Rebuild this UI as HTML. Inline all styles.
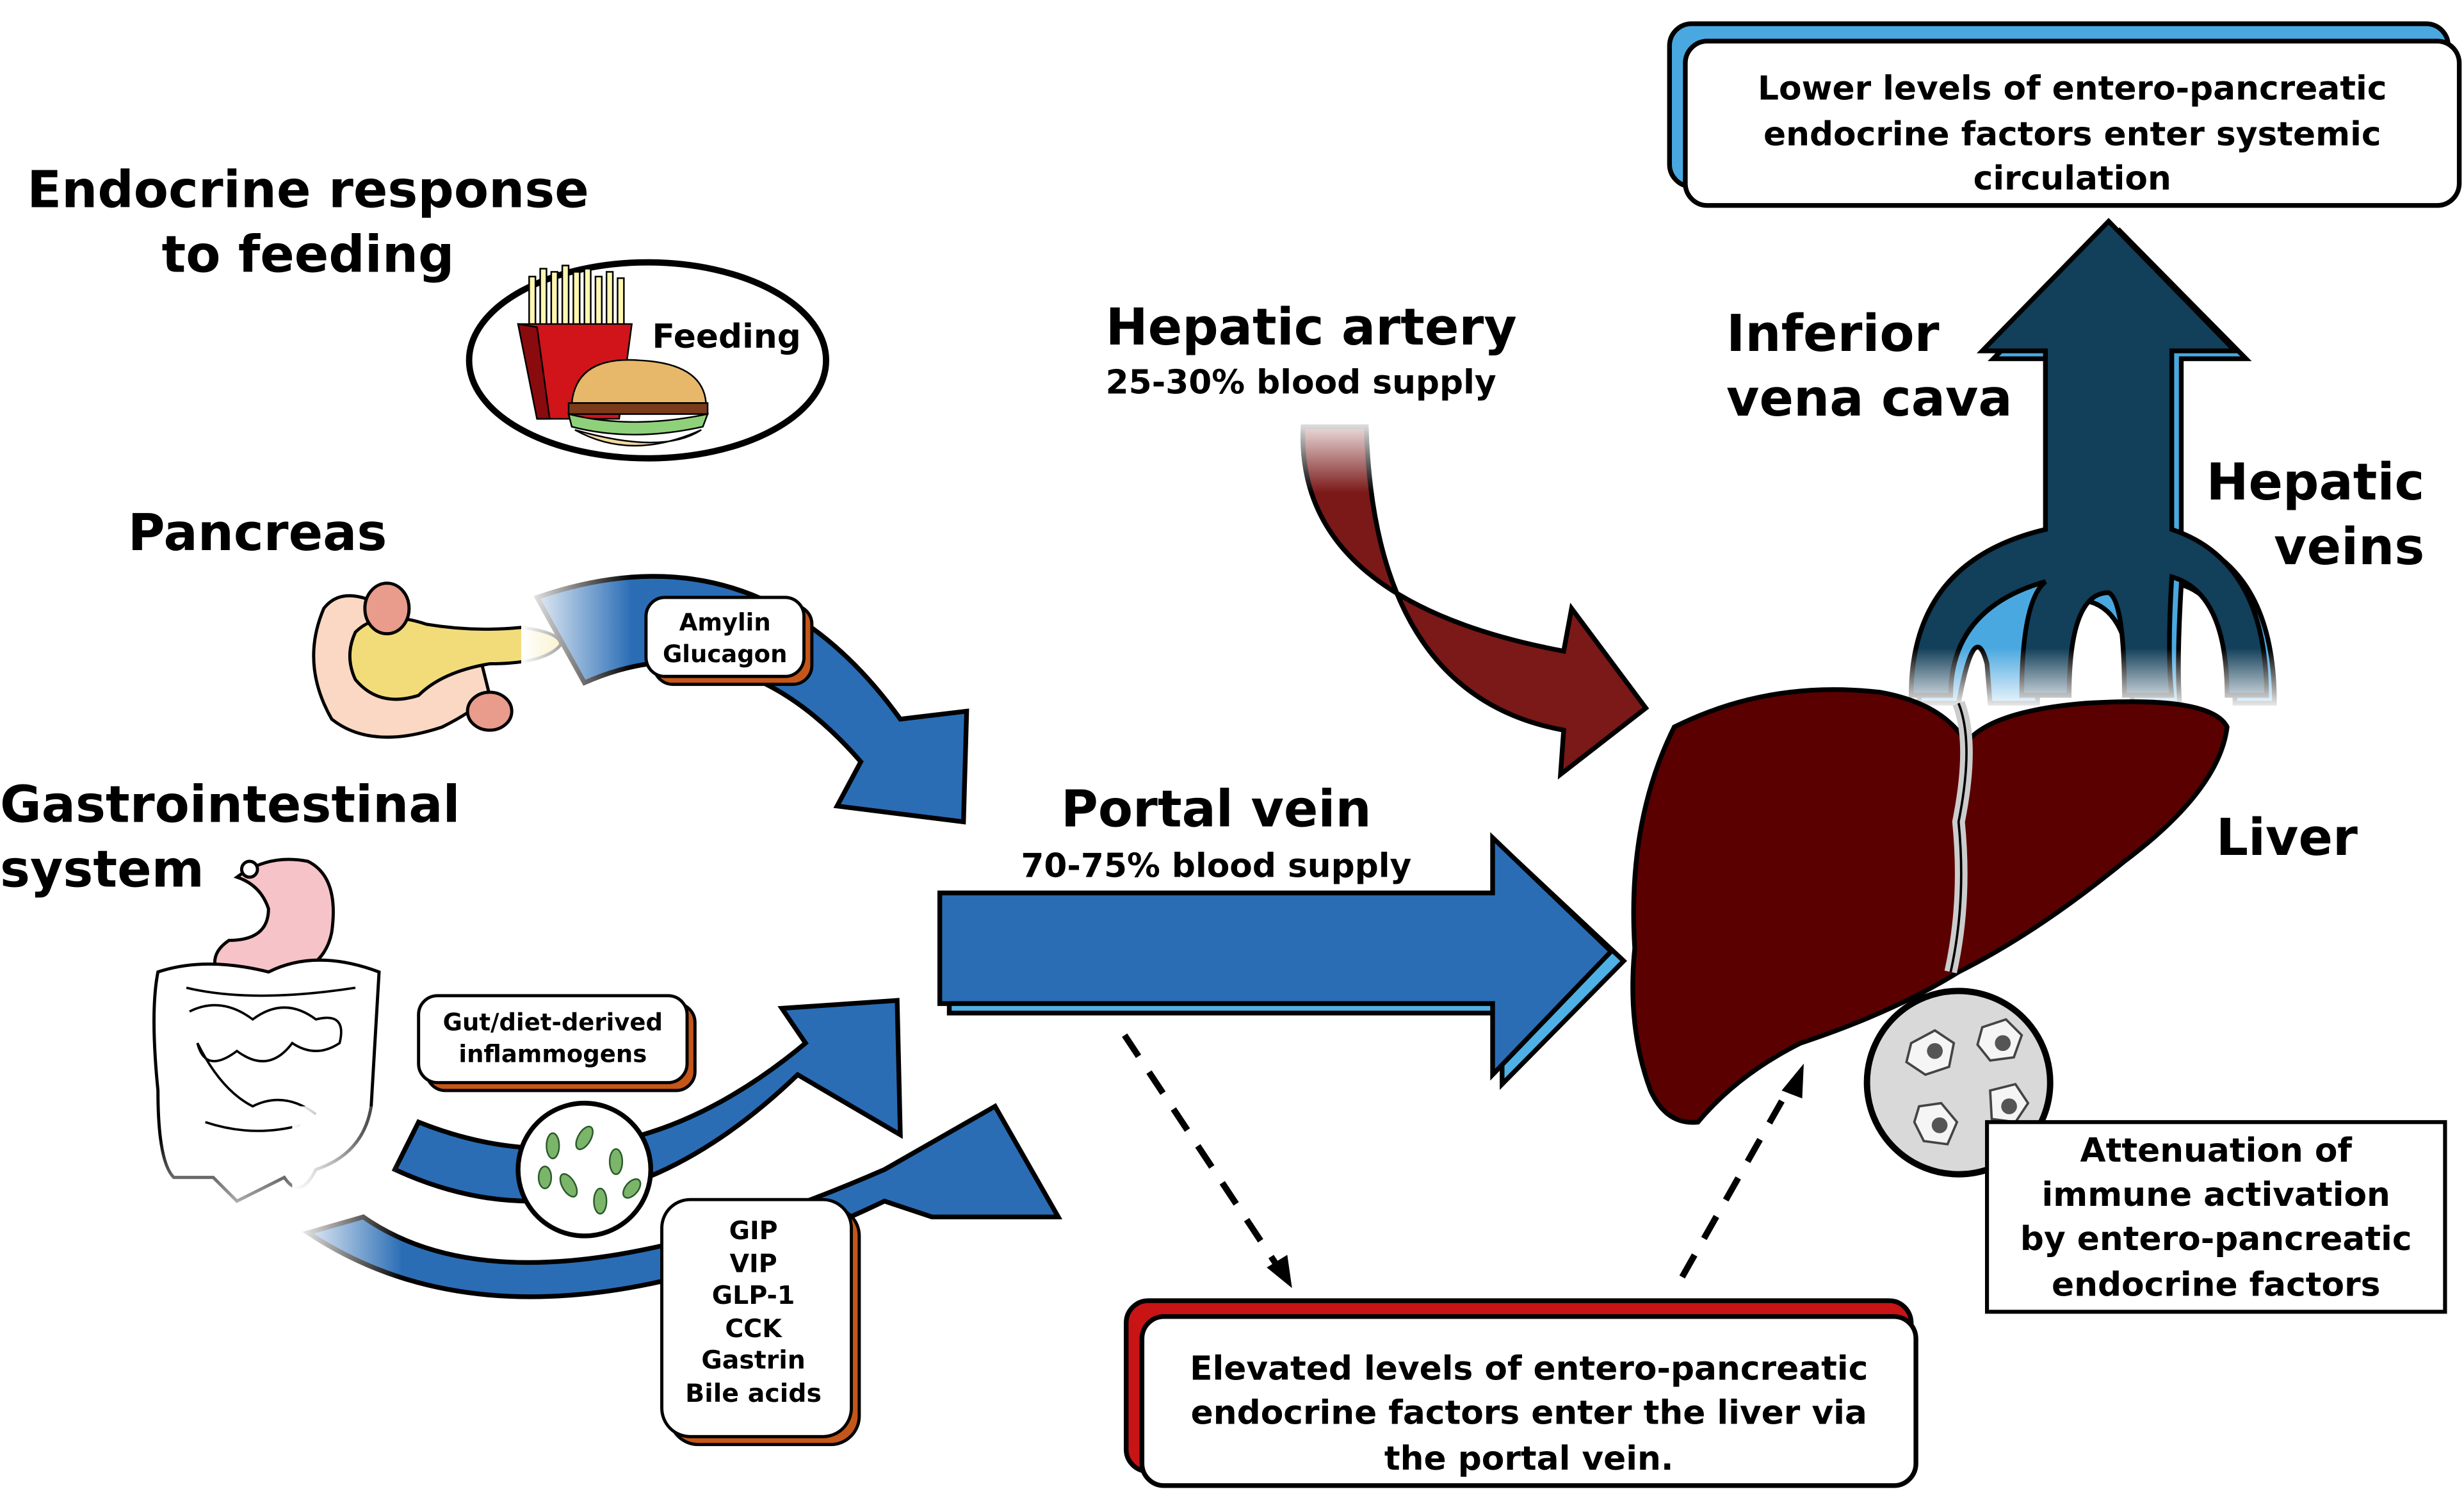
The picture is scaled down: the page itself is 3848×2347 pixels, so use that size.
<!DOCTYPE html>
<html><head><meta charset="utf-8"><style>
html,body{margin:0;padding:0;background:#fff;}
svg{display:block;}
text{font-family:"DejaVu Sans","Liberation Sans",sans-serif;font-weight:bold;fill:#000;}
</style></head><body>
<svg width="3848" height="2347" viewBox="0 0 1560 951" preserveAspectRatio="none" xmlns="http://www.w3.org/2000/svg">
<defs>
<linearGradient id="fadeL" x1="0" y1="0" x2="1" y2="0">
<stop offset="0" stop-color="#fff" stop-opacity="1"/><stop offset="1" stop-color="#fff" stop-opacity="0"/></linearGradient>
<linearGradient id="fadeT" x1="0" y1="0" x2="0" y2="1">
<stop offset="0" stop-color="#fff" stop-opacity="1"/><stop offset="1" stop-color="#fff" stop-opacity="0"/></linearGradient>
<linearGradient id="fadeB" x1="0" y1="0" x2="0" y2="1">
<stop offset="0" stop-color="#fff" stop-opacity="0"/><stop offset="1" stop-color="#fff" stop-opacity="1"/></linearGradient>
</defs>

<!-- Titles -->
<text x="195" y="131" font-size="32" text-anchor="middle">Endocrine response</text>
<text x="195" y="172" font-size="32" text-anchor="middle">to feeding</text>
<text x="163" y="348" font-size="32" text-anchor="middle">Pancreas</text>
<text x="0" y="520" font-size="32">Gastrointestinal</text>
<text x="0" y="561" font-size="32">system</text>

<!-- Feeding ellipse -->
<ellipse cx="410" cy="228" rx="113" ry="62" fill="#fff" stroke="#000" stroke-width="4"/>
<g stroke="#000" stroke-width="1">
<rect x="335" y="175" width="4" height="35" fill="#fff7b0"/><rect x="342" y="170" width="4" height="40" fill="#fff7b0"/>
<rect x="349" y="172" width="4" height="38" fill="#fff7b0"/><rect x="356" y="168" width="4" height="42" fill="#fff7b0"/>
<rect x="363" y="172" width="4" height="38" fill="#fff7b0"/><rect x="370" y="170" width="4" height="40" fill="#fff7b0"/>
<rect x="377" y="175" width="4" height="35" fill="#fff7b0"/><rect x="384" y="172" width="4" height="38" fill="#fff7b0"/>
<rect x="391" y="176" width="4" height="34" fill="#fff7b0"/>
<path d="M328 205 L400 205 L392 265 L340 265 Z" fill="#d0141a"/>
<path d="M328 205 L340 207 L348 265 L340 265 Z" fill="#8a0b0e"/>
<path d="M362 255 Q365 225 405 228 Q445 230 447 255 Z" fill="#e8b86a"/>
<rect x="360" y="255" width="88" height="7" fill="#7a3b1a"/>
<path d="M360 262 Q400 272 448 262 L445 270 Q400 280 362 270 Z" fill="#8fd17a"/>
<path d="M364 272 Q400 292 444 272 Q420 288 364 272 Z" fill="#f4d9a0"/>
</g>
<text x="460" y="220" font-size="21" text-anchor="middle">Feeding</text>

<!-- Pancreas -->
<path d="M205 385 Q190 420 210 455 Q235 475 280 460 Q300 450 310 440 L305 420 Q260 430 240 415 Q230 400 235 380 Q215 372 205 385 Z" fill="#fbd8c4" stroke="#000" stroke-width="2"/>
<path d="M225 400 Q240 385 270 395 Q300 400 330 397 Q355 400 355 408 Q345 420 310 420 Q280 425 265 440 Q240 448 225 430 Q218 415 225 400 Z" fill="#f2dc7a" stroke="#000" stroke-width="2"/>
<ellipse cx="245" cy="385" rx="14" ry="16" fill="#e99b8c" stroke="#000" stroke-width="2"/>
<ellipse cx="310" cy="450" rx="14" ry="12" fill="#e99b8c" stroke="#000" stroke-width="2"/>

<!-- Pancreas arrow -->
<path d="M340 378 Q480 330 570 455 L612 450 L610 520 L530 510 L545 482 Q465 390 370 432 Z" fill="#2a6db5" stroke="#000" stroke-width="3"/>
<rect x="330" y="360" width="70" height="90" fill="url(#fadeL)"/>
<rect x="414" y="383" width="100" height="50" rx="12" fill="#c4561a" stroke="#000" stroke-width="2"/>
<rect x="409" y="378" width="100" height="50" rx="12" fill="#fff" stroke="#000" stroke-width="2"/>
<text x="459" y="399" font-size="15" text-anchor="middle">Amylin</text>
<text x="459" y="419" font-size="15" text-anchor="middle">Glucagon</text>

<!-- Stomach / intestine -->
<path d="M150 555 Q170 540 195 545 Q215 555 210 590 Q205 615 175 618 L140 620 Q130 605 145 595 Q170 595 170 575 Q165 560 150 555 Z" fill="#f6c3c8" stroke="#000" stroke-width="2"/>
<circle cx="158" cy="550" r="5" fill="#fff" stroke="#000" stroke-width="2"/>
<path d="M100 615 Q95 640 100 690 Q100 735 110 745 L135 745 L150 760 L180 745 Q190 760 200 740 Q230 730 235 700 L240 615 Q200 600 170 615 Q130 605 100 615 Z" fill="#fff" stroke="#000" stroke-width="2"/>
<path d="M120 640 Q140 630 160 645 Q180 630 200 645 Q220 640 215 660 Q200 670 185 660 Q170 680 150 665 Q130 680 125 660 Q140 690 160 700 Q180 690 200 705 M130 710 Q160 720 190 712 M118 625 Q160 635 225 625" fill="none" stroke="#000" stroke-width="1.5"/>
<rect x="90" y="720" width="170" height="60" fill="url(#fadeB)"/>

<!-- GI arrows -->
<path d="M195 780 Q330 870 560 760 L590 770 L670 770 L630 700 L560 740 Q330 840 230 770 Z" fill="#2a6db5" stroke="#000" stroke-width="3"/>
<path d="M250 740 Q380 800 505 680 L570 718 L568 633 L495 638 L510 660 Q390 760 265 710 Z" fill="#2a6db5" stroke="#000" stroke-width="3"/>
<rect x="185" y="700" width="70" height="110" fill="url(#fadeL)"/>
<rect x="270" y="635" width="170" height="55" rx="12" fill="#c4561a" stroke="#000" stroke-width="2"/>
<rect x="265" y="630" width="170" height="55" rx="12" fill="#fff" stroke="#000" stroke-width="2"/>
<text x="350" y="652" font-size="15" text-anchor="middle">Gut/diet-derived</text>
<text x="350" y="672" font-size="15" text-anchor="middle">inflammogens</text>
<circle cx="370" cy="740" r="42" fill="#fff" stroke="#000" stroke-width="3"/>
<g fill="#7bb56a" stroke="#2a5a2a" stroke-width="1">
<ellipse cx="350" cy="725" rx="4" ry="8"/><ellipse cx="370" cy="720" rx="4" ry="8" transform="rotate(30 370 720)"/>
<ellipse cx="390" cy="735" rx="4" ry="8"/><ellipse cx="360" cy="750" rx="4" ry="8" transform="rotate(-30 360 750)"/>
<ellipse cx="380" cy="760" rx="4" ry="8"/><ellipse cx="345" cy="745" rx="4" ry="7"/><ellipse cx="400" cy="752" rx="4" ry="7" transform="rotate(40 400 752)"/>
</g>
<rect x="424" y="764" width="120" height="150" rx="18" fill="#c4561a" stroke="#000" stroke-width="2"/>
<rect x="419" y="759" width="120" height="150" rx="18" fill="#fff" stroke="#000" stroke-width="2"/>
<g font-size="16" text-anchor="middle">
<text x="477" y="784">GIP</text><text x="477" y="805">VIP</text><text x="477" y="825">GLP-1</text>
<text x="477" y="846">CCK</text><text x="477" y="866">Gastrin</text><text x="477" y="887">Bile acids</text>
</g>

<!-- Portal vein -->
<path d="M601 571 L951 571 L951 536 L1028 608 L951 686 L951 641 L601 641 Z" fill="#4fb0e6" stroke="#000" stroke-width="3"/>
<path d="M595 565 L945 565 L945 530 L1020 602 L945 680 L945 635 L595 635 Z" fill="#2a6db5" stroke="#000" stroke-width="3"/>
<text x="770" y="523" font-size="32" text-anchor="middle">Portal vein</text>
<text x="770" y="555" font-size="21" text-anchor="middle">70-75% blood supply</text>

<!-- Hepatic artery -->
<text x="700" y="218" font-size="32">Hepatic artery</text>
<text x="700" y="249" font-size="21">25-30% blood supply</text>
<path d="M825 270 Q820 380 990 412 L995 385 L1042 448 L988 490 L990 462 Q870 440 865 270 Z" fill="#7b1818" stroke="#000" stroke-width="3"/>
<rect x="815" y="262" width="60" height="50" fill="url(#fadeT)"/>

<!-- IVC & hepatic veins -->
<g fill="#4aa8e0" stroke="#000" stroke-width="3">
<path d="M1301 227 L1262 227 L1342 146 L1422 227 L1381 227 L1381 340 Q1440 360 1440 445 L1415 445 Q1415 380 1381 370 Q1378 420 1380 445 L1350 445 Q1350 385 1320 380 Q1290 385 1290 445 L1260 445 L1258 420 Q1250 390 1240 445 L1215 445 Q1215 360 1301 340 Z"/>
</g>
<path d="M1295 222 L1255 222 L1335 140 L1415 222 L1375 222 L1375 335 Q1435 355 1435 440 L1410 440 Q1410 375 1375 365 Q1372 415 1375 440 L1345 440 Q1345 380 1335 375 Q1310 375 1310 440 L1280 440 Q1280 380 1295 368 Q1235 385 1235 440 L1210 440 Q1210 355 1295 335 Z" fill="#123f5a" stroke="#000" stroke-width="3"/>
<rect x="1200" y="410" width="250" height="40" fill="url(#fadeB)"/>
<text x="1093" y="222" font-size="32">Inferior</text>
<text x="1093" y="263" font-size="32">vena cava</text>
<text x="1535" y="316" font-size="32" text-anchor="end">Hepatic</text>
<text x="1535" y="357" font-size="32" text-anchor="end">veins</text>

<!-- Liver -->
<path d="M1060 460 Q1120 430 1190 438 Q1230 445 1245 470 Q1260 450 1320 445 Q1400 440 1410 460 Q1405 500 1345 545 Q1290 590 1240 615 Q1200 640 1140 660 Q1100 680 1075 710 Q1055 712 1045 690 Q1030 650 1035 600 Q1030 520 1060 460 Z" fill="#5a0000" stroke="#000" stroke-width="3"/>
<path d="M1240 445 Q1250 470 1240 520 Q1245 570 1235 615" fill="none" stroke="#ccc" stroke-width="8"/>
<path d="M1240 445 Q1250 470 1240 520 Q1245 570 1235 615" fill="none" stroke="#000" stroke-width="1.5"/>
<text x="1403" y="541" font-size="32">Liver</text>

<!-- Immune circle -->
<circle cx="1240" cy="685" r="58" fill="#d9d9d9" stroke="#000" stroke-width="4"/>
<g fill="#f5f5f5" stroke="#444" stroke-width="1.5">
<path d="M1210 660 l15 -8 l12 8 l-3 15 l-15 5 l-12 -8 z"/><path d="M1255 650 l15 -5 l10 10 l-5 14 l-15 2 l-8 -10 z"/>
<path d="M1260 690 l16 -4 l8 12 l-8 12 l-15 -2 z"/><path d="M1215 700 l14 -2 l10 12 l-6 14 l-15 -2 l-6 -12 z"/>
</g>
<g fill="#555"><circle cx="1225" cy="665" r="5"/><circle cx="1268" cy="660" r="5"/><circle cx="1272" cy="700" r="5"/><circle cx="1228" cy="712" r="5"/></g>
<rect x="1258" y="710" width="290" height="120" fill="#fff" stroke="#000" stroke-width="2.5"/>
<g font-size="21" text-anchor="middle">
<text x="1403" y="735">Attenuation of</text><text x="1403" y="763">immune activation</text>
<text x="1403" y="791">by entero-pancreatic</text><text x="1403" y="820">endocrine factors</text>
</g>

<!-- Top box -->
<rect x="1057" y="15" width="493" height="103" rx="14" fill="#4aa8e0" stroke="#000" stroke-width="3"/>
<rect x="1067" y="26" width="490" height="104" rx="14" fill="#fff" stroke="#000" stroke-width="3"/>
<g font-size="21" text-anchor="middle">
<text x="1312" y="63">Lower levels of entero-pancreatic</text>
<text x="1312" y="92">endocrine factors enter systemic</text>
<text x="1312" y="120">circulation</text>
</g>

<!-- Dashed arrows -->
<g stroke="#000" stroke-width="4" stroke-dasharray="16 12" fill="none">
<line x1="712" y1="655" x2="808" y2="800"/>
<line x1="1065" y1="808" x2="1133" y2="688"/>
</g>
<path d="M802 802 L818 815 L815 794 Z" fill="#000"/>
<path d="M1128 690 L1142 673 L1141 695 Z" fill="#000"/>

<!-- Bottom box -->
<rect x="713" y="823" width="497" height="108" rx="14" fill="#c81414" stroke="#000" stroke-width="3"/>
<rect x="723" y="833" width="490" height="107" rx="14" fill="#fff" stroke="#000" stroke-width="3"/>
<g font-size="21" text-anchor="middle">
<text x="968" y="873">Elevated levels of entero-pancreatic</text>
<text x="968" y="901">endocrine factors enter the liver via</text>
<text x="968" y="930">the portal vein.</text>
</g>
</svg>
</body></html>
